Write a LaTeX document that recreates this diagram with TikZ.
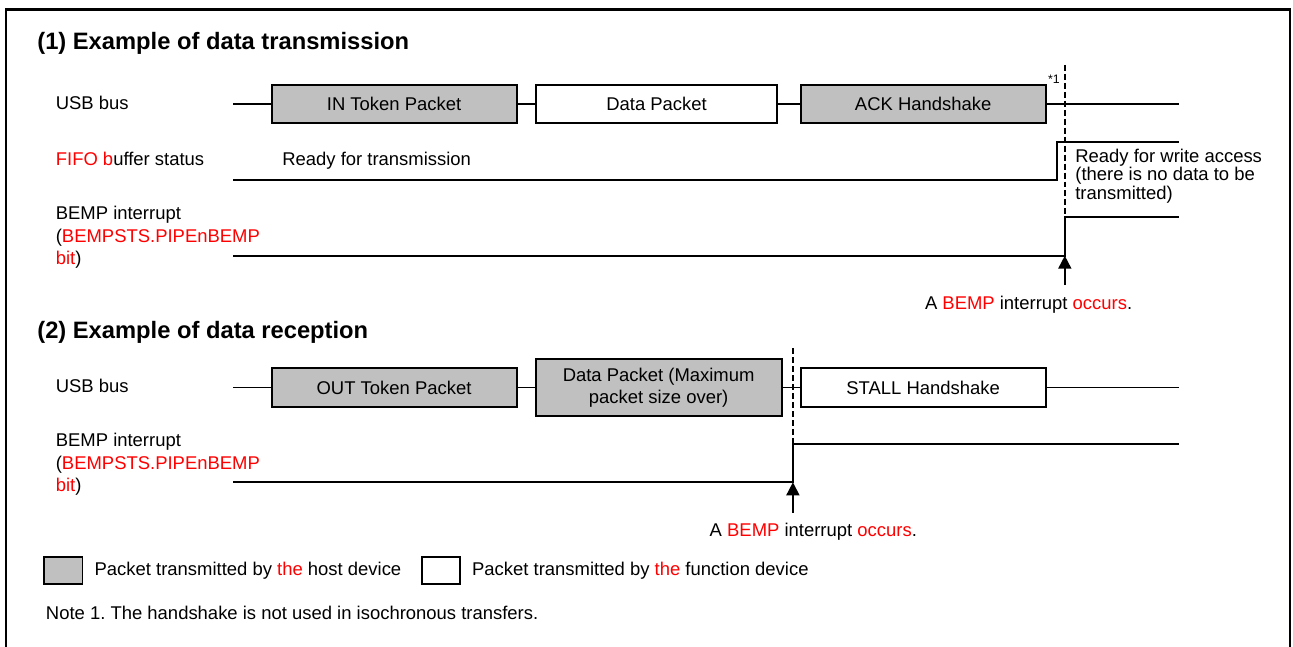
\documentclass[tikz,border=0pt]{standalone}
\usepackage{fontspec}
\setmainfont{Liberation Sans}
\usepackage{xcolor}
\usepackage{tikz}
\usetikzlibrary{positioning,calc,arrows.meta}

\definecolor{hostgray}{RGB}{192,192,192}
\newcommand{\rd}[1]{\textcolor{red}{#1}}
\newcommand{\txtfont}{\fontsize{10.5pt}{12.8pt}\selectfont}
\newcommand{\hdfont}{\fontsize{13.5pt}{16pt}\selectfont\bfseries}
\frenchspacing

\begin{document}
\begin{tikzpicture}[
    every node/.style={font=\txtfont, inner sep=0pt},
    pkt/.style={draw, line width=1.1pt, minimum width=4.9cm, minimum height=0.766cm, align=center},
    host/.style={pkt, fill=hostgray},
    func/.style={pkt, fill=white},
    sig/.style={line width=1pt},
    lbl/.style={anchor=base west, align=left},
    sync/.style={line width=1.1pt, dash pattern=on 3.4pt off 1.7pt},
    irq/.style={line width=1pt, -{Triangle[length=7.4pt, width=7.4pt]}}
  ]
  \useasboundingbox (0,0) rectangle (25.86,12.92);

  % outer frame (open at the bottom)
  \draw[line width=1.5pt] (0.12,-0.3) -- (0.12,12.73) -- (25.8,12.73) -- (25.8,-0.3);

  % ---------------- (1) data transmission ----------------
  \node[lbl, font=\hdfont] (head1) at (0.74,11.93) {(1) Example of data transmission};

  % row labels (multi-line ones sit on their last line)
  \node[lbl] (usb1) at (1.11,10.734) {USB bus};
  \node[lbl] (fifo1) at (1.11,9.608) {\rd{FIFO b}uffer status};
  \node[lbl] (bemp1) at (1.11,7.628) {BEMP interrupt\\(\rd{BEMPSTS.PIPEnBEMP}\\\rd{bit})};

  % USB bus packets
  \node[host] (in) at (7.881,10.837) {IN Token Packet};
  \node[func, minimum width=4.834cm] (data1) at (13.131,10.837) {Data Packet};
  \node[host] (ack) at (18.463,10.837) {ACK Handshake};
  \coordinate (u1s) at (4.66,10.837);
  \coordinate (u1e) at (23.57,10.837);
  \draw[sig] (u1s) -- (in) (in) -- (data1) (data1) -- (ack) (ack) -- (u1e);
  \node[font=\fontsize{7pt}{8pt}\selectfont] (note1) at (21.08,11.33) {*1};

  % FIFO buffer status
  \coordinate (f1s) at (4.66,9.32);
  \coordinate (f1rise) at (21.146,9.32);
  \coordinate (f1up) at (21.146,10.074);
  \coordinate (f1e) at (23.57,10.074);
  \draw[sig] (f1s) -- (f1rise) -- (f1up) -- (f1e);
  \node[lbl] (rdytx) at (5.64,9.608) {Ready for transmission};
  \node[lbl, font=\fontsize{10.5pt}{10.6pt}\selectfont] (rdywr) at (21.5,8.934)
    {Ready for write access\\(there is no data to be\\transmitted)};

  % BEMP interrupt
  \coordinate (b1s) at (4.66,7.806);
  \coordinate (b1rise) at (21.296,7.806);
  \coordinate (b1up) at (21.296,8.574);
  \coordinate (b1e) at (23.57,8.574);
  \draw[sig] (b1s) -- (b1rise) -- (b1up) -- (b1e);
  \coordinate (d1t) at (21.296,11.62);
  \draw[sync] (d1t) -- (b1up);
  \coordinate (b1arr) at (21.296,7.22);
  \draw[irq] (b1arr) -- (b1rise);
  \node[anchor=base] (occ1) at (20.572,6.734) {A \rd{BEMP} interrupt \rd{occurs}.};

  % ---------------- (2) data reception ----------------
  \node[lbl, font=\hdfont] (head2) at (0.74,6.148) {(2) Example of data reception};

  \node[lbl] (usb2) at (1.11,5.074) {USB bus};
  \node[lbl] (bemp2) at (1.11,3.088) {BEMP interrupt\\(\rd{BEMPSTS.PIPEnBEMP}\\\rd{bit})};

  % USB bus packets
  \node[host] (out) at (7.881,5.17) {OUT Token Packet};
  \node[host, minimum width=4.918cm, minimum height=1.14cm] (data2) at (13.173,5.17)
    {Data Packet (Maximum\\packet size over)};
  \node[func] (stall) at (18.463,5.17) {STALL Handshake};
  \coordinate (u2s) at (4.66,5.17);
  \coordinate (u2e) at (23.57,5.17);
  \draw[sig] (u2s) -- (out) (out) -- (data2) (data2) -- (stall) (stall) -- (u2e);

  % BEMP interrupt
  \coordinate (b2s) at (4.66,3.274);
  \coordinate (b2rise) at (15.858,3.274);
  \coordinate (b2up) at (15.858,4.04);
  \coordinate (b2e) at (23.57,4.04);
  \draw[sig] (b2s) -- (b2rise) -- (b2up) -- (b2e);
  \coordinate (d2t) at (15.858,5.954);
  \draw[sync] (d2t) -- (b2up);
  \coordinate (b2arr) at (15.858,2.666);
  \draw[irq] (b2arr) -- (b2rise);
  \node[anchor=base] (occ2) at (16.266,2.188) {A \rd{BEMP} interrupt \rd{occurs}.};

  % ---------------- legend and note ----------------
  \node[draw, line width=1.1pt, fill=hostgray, minimum width=0.762cm, minimum height=0.546cm] (keyhost) at (1.269,1.509) {};
  \node[right=0.216cm of keyhost] (keyhosttxt) {Packet transmitted by \rd{the} host device};
  \node[draw, line width=1.1pt, fill=white, minimum width=0.762cm, minimum height=0.546cm] (keyfunc) at (8.82,1.509) {};
  \node[right=0.216cm of keyfunc] (keyfunctxt) {Packet transmitted by \rd{the} function device};
  \node[lbl] (note) at (0.912,0.522) {Note 1. The handshake is not used in isochronous transfers.};
\end{tikzpicture}
\end{document}
